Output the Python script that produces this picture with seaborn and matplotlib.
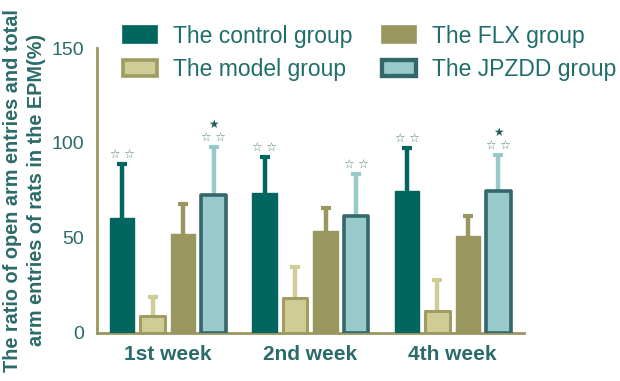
import numpy as np
import pandas as pd
import seaborn as sns
import matplotlib.pyplot as plt
from matplotlib.patches import Patch

# values
weeks = ['1st week', '2nd week', '4th week']
groups = ['The control group', 'The model group', 'The FLX group', 'The JPZDD group']
means = {
    'The control group': [60.5, 73.7, 74.4],
    'The model group': [8.6, 18.4, 11.6],
    'The FLX group': [52.0, 53.7, 50.7],
    'The JPZDD group': [72.6, 61.6, 74.4],
}
sds = {
    'The control group': [28.5, 18.9, 23.0],
    'The model group': [10.4, 16.0, 15.9],
    'The FLX group': [16.0, 12.1, 10.5],
    'The JPZDD group': [25.4, 22.1, 19.3],
}
# significance marks (hollow = vs model, filled = vs FLX)
hollow = {
    'The control group': ['☆ ☆', '☆ ☆', '☆ ☆'],
    'The JPZDD group': ['☆ ☆', '☆ ☆', '☆ ☆'],
}
filled = {
    'The JPZDD group': ['★', '', '★'],
}

fills = ['#00665F', '#CFCC96', '#9A9660', '#98CACB']
edges = ['#00665F', '#A09D63', '#9A9660', '#33676A']
lws = [1, 2.2, 1, 2.6]
axis_col = '#9A9660'
txt_col = '#2B6B69'

rows = []
for g in groups:
    for w, m in zip(weeks, means[g]):
        rows.append({'week': w, 'group': g, 'value': m})
df = pd.DataFrame(rows)

sns.set_style('white')
plt.rcParams['font.family'] = ['Liberation Sans', 'DejaVu Sans']
fig = plt.figure(figsize=(6.2, 3.81), dpi=100)
ax = fig.add_axes([0.156, 0.127, 0.689, 0.747])

sns.barplot(data=df, x='week', y='value', hue='group', hue_order=groups,
            order=weeks, palette=fills, saturation=1, errorbar=None,
            width=0.857, gap=0.2, legend=False, ax=ax, zorder=3)

for i, (g, cont) in enumerate(zip(groups, ax.containers)):
    for j, bar in enumerate(cont):
        bar.set_edgecolor(edges[i])
        bar.set_linewidth(lws[i])
        bar.set_joinstyle('round')
        xc = bar.get_x() + bar.get_width() / 2
        h = bar.get_height()
        top = h + sds[g][j]
        # one-sided error bar: stem + top cap only
        ax.vlines(xc, h, top, color=fills[i], lw=3.2, zorder=2)
        ax.plot([xc], [top], marker='_', ms=7.5, mew=3, color=fills[i], zorder=2)
        if g in hollow:
            ax.text(xc, top + 1.5, hollow[g][j], ha='center', va='bottom',
                    fontsize=8.5, color='#4E7F7E', zorder=5,
                    family='DejaVu Sans')
        if g in filled and filled[g][j]:
            ax.text(xc, top + 8.5, filled[g][j], ha='center', va='bottom',
                    fontsize=8.5, color='#1E5E5C', zorder=5,
                    family='DejaVu Sans')

ax.set_ylim(0, 150)
ax.set_xlim(-0.5, 2.5)
ax.set_yticks([0, 50, 100, 150])
ax.set_xlabel('')
ax.set_ylabel('The ratio of open arm entries and total\narm entries of rats in the EPM(%)',
              fontsize=14.3, fontweight='bold', color=txt_col, linespacing=1.3)
ax.yaxis.set_label_coords(-0.119, 0.5)
sns.despine(ax=ax)
for s in ['left', 'bottom']:
    ax.spines[s].set_color(axis_col)
    ax.spines[s].set_linewidth(2)
ax.tick_params(axis='both', colors=axis_col, width=2, length=5, pad=4,
               direction='out')
ax.tick_params(axis='y', labelsize=14, labelcolor=txt_col)
ax.tick_params(axis='x', labelsize=15, labelcolor=txt_col)
for t in ax.get_xticklabels():
    t.set_fontweight('bold')

handles = [Patch(facecolor=fills[i], edgecolor=edges[i], linewidth=lws[i] * 1.2)
           for i in range(4)]
fig.legend(handles, groups, loc='upper left', bbox_to_anchor=(0.198, 0.935),
           ncol=2, frameon=False, fontsize=16.5, labelcolor='#1F6E6A',
           borderpad=0, borderaxespad=0,
           handlelength=1.48, handleheight=0.74, handletextpad=0.7,
           columnspacing=1.3, labelspacing=0.45)

fig.savefig('out.png', dpi=100)
